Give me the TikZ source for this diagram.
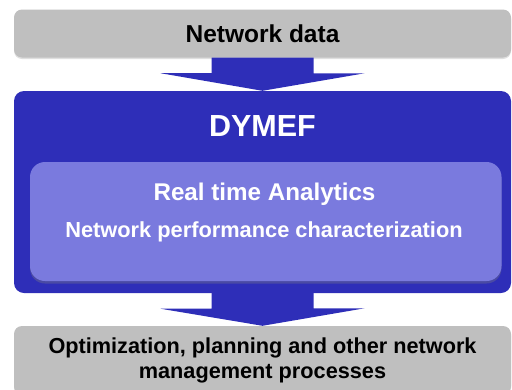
\documentclass[tikz,border=0pt]{standalone}
\usepackage{fontspec}
\setmainfont{Liberation Sans}
\usetikzlibrary{calc, shadows}

\definecolor{boxgray}{RGB}{191,191,191}
\definecolor{dymefblue}{RGB}{46,46,184}
\definecolor{innerblue}{RGB}{122,122,222}

\begin{document}
\begin{tikzpicture}[x=1pt, y=-1pt,
    graybox/.style={fill=boxgray, rounded corners=8pt, inner sep=0pt, align=center,
        minimum width=497pt,
        drop shadow={shadow xshift=0pt, shadow yshift=-1.5pt, opacity=0.25}},
    label/.style={white, inner sep=0pt, anchor=base},
    flow/.style={fill=dymefblue}]
    \clip (0,0) rectangle (512,389);

    % boxes
    \node[graybox, minimum height=48pt, font=\bfseries\fontsize{24.5}{28}\selectfont]
        (data) at (262.5,33.5) {Network data};
    \node[fill=dymefblue, rounded corners=10pt, minimum width=497pt, minimum height=202pt,
        inner sep=0pt] (dymef) at (262.5,192) {};
    \node[fill=innerblue, rounded corners=15pt, minimum width=471.5pt, minimum height=119pt,
        inner sep=0pt, drop shadow={shadow xshift=0pt, shadow yshift=-2.5pt, opacity=0.35}]
        (rta) at (265.75,221.5) {};
    \node[graybox, minimum height=68.4pt, font=\bfseries\fontsize{21.7}{25}\selectfont]
        (result) at (262.5,360.2) {Optimization, planning and other network\\management processes};

    % texts
    \node[label, font=\bfseries\fontsize{30.5}{34}\selectfont] (dymeflabel) at (262.5,136.7) {DYMEF};
    \node[label, font=\bfseries\fontsize{24.2}{28}\selectfont] (rtalabel) at (264.5,200) {Real time Analytics};
    \node[label, font=\bfseries\fontsize{21.8}{25}\selectfont] (perflabel) at (264,237.3) {Network performance characterization};

    % arrows
    \fill[flow] ([xshift=-51pt]data.south) -- ++(0,15.5) -- ++(-51,0) -- (dymef.north)
        -- ++(102,-17.5) -- ++(-51,0) -- ([xshift=51pt]data.south) -- cycle;
    \fill[flow] ([xshift=-51pt]dymef.south) -- ++(0,15.5) -- ++(-51,0) -- (result.north)
        -- ++(102,-17.5) -- ++(-51,0) -- ([xshift=51pt]dymef.south) -- cycle;
\end{tikzpicture}
\end{document}
